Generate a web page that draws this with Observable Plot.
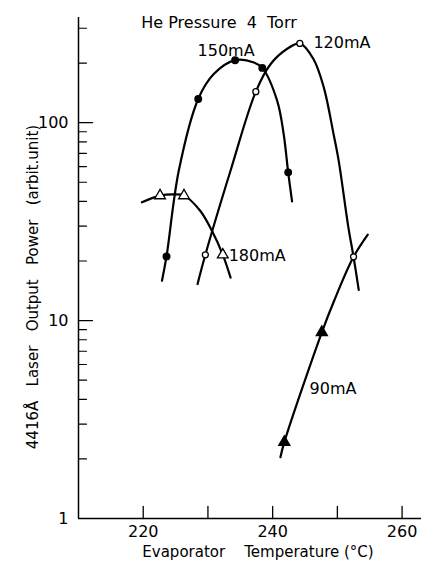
<!DOCTYPE html>
<html><head><meta charset="utf-8">
<script src="https://cdn.jsdelivr.net/npm/d3@7"></script>
<script src="https://cdn.jsdelivr.net/npm/@observablehq/plot@0.6"></script>
<style>
body{margin:0;background:#fff}
svg{font-family:"DejaVu Sans",sans-serif}
</style>
</head><body><div id="chart"></div>
<script>
// ---- measured markers ----
const t150 = [223.6, 228.5, 234.2, 238.4, 242.4];
const p150 = [21.1, 131.8, 206.9, 189.2, 56.1];
const t120 = [229.6, 237.4, 244.2, 252.5];
const p120 = [21.5, 143.5, 251.5, 21.0];
const t180 = [222.6, 226.3, 232.3];
const p180 = [42.8, 42.8, 21.5];
const t90 = [241.8, 247.6];
const p90 = [2.43, 8.73];

// ---- drawn curves ----
const c150T = [222.9, 223.6, 225.5, 228.5, 230.9, 234.2, 237.1, 238.4, 240.7, 241.7, 242.4, 243.0];
const c150P = [15.9, 21.1, 57.3, 131.8, 176, 206.9, 201.6, 189.2, 129, 87.7, 56.1, 40.0];
const c120T = [228.4, 229.6, 233.5, 237.4, 239.7, 242.2, 244.2, 246.3, 247.9, 249.4, 250.2, 251.7, 252.5, 253.3];
const c120P = [15.3, 21.5, 57.3, 143.5, 197.9, 235.6, 251.5, 209.8, 150.8, 88, 64.3, 29.6, 21.0, 14.3];
const c180T = [219.8, 222.6, 224.7, 226.3, 228.8, 230.6, 232.3, 233.5];
const c180P = [39.6, 42.8, 43.4, 42.8, 35.9, 28.5, 21.5, 16.5];
const c90T = [241.2, 241.8, 247.6, 249.5, 252.5, 254.7];
const c90P = [2.04, 2.43, 8.73, 12.6, 21.0, 27.2];

// ---- labels ----
const seriesNames = ["150mA", "120mA", "180mA", "90mA"];
const seriesLabelT = [228.4, 246.3, 233.2, 245.7];
const seriesLabelP = [231, 254, 21.3, 4.52];
const titleText = "He Pressure\u00a0 4\u00a0 Torr";
const xTitle = "Evaporator\u00a0\u00a0\u00a0 Temperature (°C)";
const yTitle = "4416Å\u00a0\u00a0 Laser\u00a0\u00a0 Output\u00a0\u00a0 Power\u00a0\u00a0 (arbit.unit)";

// ---- ticks ----
const xTickValues = [220, 230, 240, 250, 260];
const xTickLabels = [220, 240, 260];
const yMajor = [10, 100];
const yMinor = [2, 3, 4, 5, 6, 7, 8, 9, 20, 30, 40, 50, 60, 70, 80, 90, 200, 300];
const yTickLabels = [1, 10, 100];

const zip = (T, P) => T.map((t, i) => ({t, p: P[i]}));
const tickShape = {draw(context, l) { context.moveTo(0, 0); context.lineTo(0, -l); }};

const chart = Plot.plot({
  width: 423,
  height: 563,
  marginLeft: 78,
  marginRight: 2,
  marginTop: 17,
  marginBottom: 45,
  style: {fontFamily: "DejaVu Sans, sans-serif", color: "#000", background: "#fff"},
  x: {domain: [210, 263]},
  y: {type: "log", domain: [1, 340]},
  marks: [
    Plot.ruleX([210], {stroke: "#000", strokeWidth: 1.5}),
    Plot.ruleY([1], {stroke: "#000", strokeWidth: 1.5}),
    Plot.vector(yMajor, {y: d => d, frameAnchor: "left", rotate: 90, length: 14, anchor: "start", shape: tickShape, stroke: "#000", strokeWidth: 1.3}),
    Plot.vector(yMinor, {y: d => d, frameAnchor: "left", rotate: 90, length: 8, anchor: "start", shape: tickShape, stroke: "#000", strokeWidth: 1.2}),
    Plot.vector(xTickValues, {x: d => d, frameAnchor: "bottom", rotate: 0, length: 12, anchor: "start", shape: tickShape, stroke: "#000", strokeWidth: 1.3}),
    Plot.axisX(xTickLabels, {tickSize: 0, tickPadding: 7, fontSize: 16, label: null, tickFormat: d => String(d)}),
    Plot.axisY(yTickLabels, {tickSize: 0, tickPadding: 10, fontSize: 16, label: null, tickFormat: d => String(d)}),
    Plot.line(zip(c150T, c150P), {x: "t", y: "p", curve: "catmull-rom", stroke: "#000", strokeWidth: 2.2}),
    Plot.line(zip(c120T, c120P), {x: "t", y: "p", curve: "catmull-rom", stroke: "#000", strokeWidth: 2.2}),
    Plot.line(zip(c180T, c180P), {x: "t", y: "p", curve: "catmull-rom", stroke: "#000", strokeWidth: 2.2}),
    Plot.line(zip(c90T, c90P), {x: "t", y: "p", curve: "catmull-rom", stroke: "#000", strokeWidth: 2.2}),
    Plot.dot(zip(t150, p150), {x: "t", y: "p", r: 3.2, fill: "#000", stroke: "#000"}),
    Plot.dot(zip(t120, p120), {x: "t", y: "p", r: 3, fill: "#fff", stroke: "#000", strokeWidth: 1.3}),
    Plot.dot(zip(t180, p180), {x: "t", y: "p", symbol: "triangle", r: 4, fill: "#fff", stroke: "#000", strokeWidth: 1.3}),
    Plot.dot(zip(t90, p90), {x: "t", y: "p", symbol: "triangle", r: 4, fill: "#000", stroke: "#000"}),
    Plot.text(seriesNames, {x: (d, i) => seriesLabelT[i], y: (d, i) => seriesLabelP[i], text: d => d, textAnchor: "start", fontSize: 16, fill: "#000"}),
    Plot.text([titleText], {frameAnchor: "top", textAnchor: "middle", lineAnchor: "middle", dx: -31, dy: 5, fontSize: 16, fill: "#000"}),
    Plot.text([xTitle], {frameAnchor: "bottom", textAnchor: "middle", lineAnchor: "middle", dx: 8, dy: 34, fontSize: 15, fill: "#000"}),
    Plot.text([yTitle], {frameAnchor: "left", textAnchor: "middle", lineAnchor: "middle", rotate: -90, dx: -45, dy: 19, fontSize: 15, fill: "#000"})
  ]
});
document.getElementById("chart").appendChild(chart);
</script>
</body></html>
